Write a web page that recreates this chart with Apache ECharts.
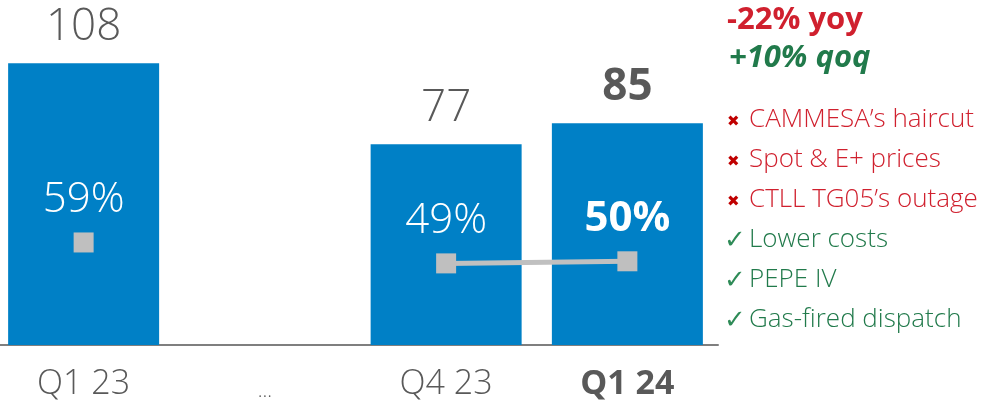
<!DOCTYPE html>
<html>
<head>
<meta charset="utf-8">
<script src="https://cdn.jsdelivr.net/npm/echarts@6/dist/echarts.min.js"></script>
<style>
  html, body { margin: 0; padding: 0; background: #fff; }
  #chart { width: 986px; height: 405px; }
</style>
</head>
<body>
<div id="chart"></div>
<script>
// Quarterly adjusted EBITDA (US$ M) and margin
const quarters = ['Q1 23', '...', 'Q4 23', 'Q1 24'];
const ebitda = [108, null, 77, 85];
const margin = [59, null, 49, 50];
const highlightIndex = 3;

const changeLines = [
  { text: '-22% yoy', kind: 'neg' },
  { text: '+10% qoq', kind: 'pos' }
];
const drivers = [
  { text: 'CAMMESA\u2019s haircut', good: false },
  { text: 'Spot & E+ prices', good: false },
  { text: 'CTLL TG05\u2019s outage', good: false },
  { text: 'Lower costs', good: true },
  { text: 'PEPE IV', good: true },
  { text: 'Gas-fired dispatch', good: true }
];

const FONT = '"Open Sans", "Noto Sans", sans-serif';
const BLUE = '#0080C6';
const GREY_TEXT = '#595959';
const RED = '#D0202E';
const GREEN = '#217A4B';

const chart = echarts.init(document.getElementById('chart'));

const graphics = [];
graphics.push({
  type: 'text', left: 727, top: 5,
  style: { text: changeLines[0].text, font: 'bold 31px ' + FONT, fill: RED }
});
graphics.push({
  type: 'text', left: 729, top: 43,
  style: { text: changeLines[1].text, font: 'italic bold 31px ' + FONT, fill: GREEN }
});
drivers.forEach((d, i) => {
  const y = 124 + i * 40;
  graphics.push({
    type: 'text', left: d.good ? 724 : 727, top: d.good ? y - 16 : y - 9,
    style: {
      text: d.good ? '\u2713' : '\u2716',
      font: (d.good ? '26px ' : '15px ') + '"DejaVu Sans", sans-serif',
      fill: d.good ? '#2E8B57' : '#C00000'
    }
  });
  graphics.push({
    type: 'text', left: 749, top: y - 17,
    style: { text: d.text, font: '300 26px ' + FONT, fill: d.good ? GREEN : RED }
  });
});

chart.setOption({
  animation: false,
  grid: { left: -7, right: 268, top: 6, bottom: 60, outerBoundsMode: 'none' },
  xAxis: {
    type: 'category',
    data: quarters,
    axisLine: { lineStyle: { color: '#7F7F7F', width: 2 } },
    axisTick: { show: false },
    axisLabel: {
      margin: 22,
      formatter: (v, i) => i === highlightIndex ? '{b|' + v + '}' : (v === '...' ? '{d|' + v + '}' : '{n|' + v + '}'),
      rich: {
        n: { fontFamily: FONT, fontWeight: 300, fontSize: 34, color: GREY_TEXT },
        b: { fontFamily: FONT, fontWeight: 'bold', fontSize: 34, color: GREY_TEXT },
        d: { fontFamily: FONT, fontWeight: 300, fontSize: 20, color: GREY_TEXT, padding: [14, 0, 0, 0] }
      }
    }
  },
  yAxis: [
    { type: 'value', min: 0, max: 130, show: false },
    { type: 'value', min: 10, max: 172, show: false }
  ],
  graphic: graphics,
  series: [
    {
      type: 'bar',
      data: ebitda.map((v, i) => ({
        value: v,
        label: i === highlightIndex ? { fontWeight: 'bold' } : {}
      })),
      barWidth: 151,
      itemStyle: { color: BLUE },
      label: {
        show: true, position: 'top', distance: 14,
        fontFamily: FONT, fontWeight: 300, fontSize: 44, color: GREY_TEXT
      }
    },
    {
      type: 'line',
      yAxisIndex: 1,
      data: margin.map((v, i) => ({
        value: v,
        label: i === highlightIndex ? { fontWeight: 'bold' } : {}
      })),
      connectNulls: false,
      symbol: 'rect',
      symbolSize: 20,
      lineStyle: { color: '#C0C0C0', width: 5 },
      itemStyle: { color: '#BFBFBF' },
      z: 5,
      label: {
        show: true, position: 'top', distance: 11,
        formatter: p => p.value + '%',
        fontFamily: FONT, fontWeight: 300, fontSize: 42, color: '#FFFFFF'
      }
    }
  ]
});
</script>
</body>
</html>
